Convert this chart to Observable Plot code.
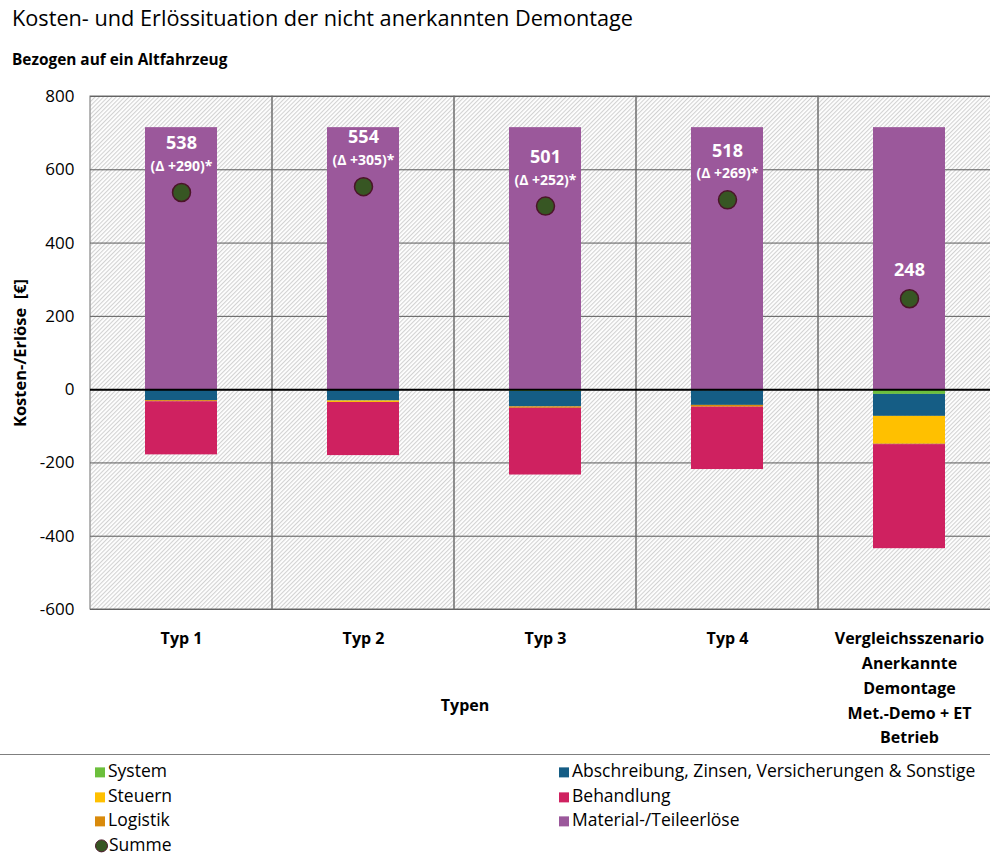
<!DOCTYPE html>
<html>
<head>
<meta charset="utf-8">
<script src="https://cdn.jsdelivr.net/npm/d3@7"></script>
<script src="https://cdn.jsdelivr.net/npm/@observablehq/plot@0.6"></script>
<style>
  body { margin: 0; background: #fff; font-family: "Open Sans", Lato, sans-serif; color: #000; }
  #wrap { position: relative; width: 990px; height: 855px; overflow: hidden; }
  #title { position: absolute; left: 12px; top: 3px; font-size: 21.7px; }
  #subtitle { position: absolute; left: 12px; top: 49px; font-size: 15.4px; font-weight: bold; }
  #chart { position: absolute; left: 0; top: 80px; }
  #ylabel { position: absolute; left: 19px; top: 353px; transform: translate(-50%, -50%) rotate(-90deg); font-size: 16.5px; font-weight: bold; white-space: pre; }
  #xlabel { position: absolute; left: 465px; top: 705px; transform: translate(-50%, -50%); font-size: 16px; font-weight: bold; }
  #sep { position: absolute; left: 0; top: 754px; width: 990px; height: 0; border-top: 1.5px solid #7f7f7f; }
  .leg { position: absolute; font-size: 17.5px; line-height: 1.1; white-space: nowrap; transform: translateY(-50%); }
  .sw { display: inline-block; width: 10px; height: 10px; margin-right: 3px; }
  .dotsw { display: inline-block; width: 11px; height: 11px; border-radius: 50%; background: #375623; border: 1.5px solid #4a1428; margin-right: 1px; vertical-align: -1px; }
</style>
</head>
<body>
<div id="wrap">
  <div id="title">Kosten- und Erlössituation der nicht anerkannten Demontage</div>
  <div id="subtitle">Bezogen auf ein Altfahrzeug</div>
  <div id="chart"></div>
  <div id="ylabel">Kosten-/Erlöse  [€]</div>
  <div id="xlabel">Typen</div>
  <div id="sep"></div>
  <div id="legend"></div>
</div>
<script>
const categories = ["Typ 1", "Typ 2", "Typ 3", "Typ 4", "Vergleichsszenario\nAnerkannte\nDemontage\nMet.-Demo + ET\nBetrieb"];
const seriesNames = ["Material-/Teileerlöse", "System", "Abschreibung, Zinsen, Versicherungen & Sonstige", "Steuern", "Logistik", "Behandlung"];
const seriesColors = ["#9b589b", "#6cbf3c", "#155d85", "#ffc000", "#d98a0b", "#cf2160"];

const material     = [715, 715, 715, 715, 715];
const system       = [0, 0, -5, -3, -13];
const abschreibung = [-30, -31, -42, -40, -60];
const steuern      = [0, -4, 0, 0, -75];
const logistik     = [-3, 0, -4, -5, -2];
const behandlung   = [-145, -145, -182, -170, -284];
const summe        = [538, 554, 501, 518, 248];
const sumLabels    = ["538", "554", "501", "518", "248"];
const deltaLabels  = ["(Δ +290)*", "(Δ +305)*", "(Δ +252)*", "(Δ +269)*", ""];
const yTicks       = [-600, -400, -200, 0, 200, 400, 600, 800];
const yDomain      = [-600, 800];

const seriesValues = [material, system, abschreibung, steuern, logistik, behandlung];
const rows = [];
seriesNames.forEach((s, i) => categories.forEach((c, j) => rows.push({cat: c, series: s, value: seriesValues[i][j]})));
const sums = categories.map((c, j) => ({cat: c, value: summe[j], label: sumLabels[j], delta: deltaLabels[j]}));

const chart = Plot.plot({
  width: 990,
  height: 675,
  marginTop: 16,
  marginBottom: 146,
  marginLeft: 90,
  marginRight: 0,
  style: {fontFamily: "'Open Sans', Lato, sans-serif", color: "#000", background: "transparent"},
  x: {domain: categories, range: [90, 1000], padding: 0},
  y: {domain: yDomain},
  color: {domain: seriesNames, range: seriesColors},
  marks: [
    Plot.frame({fill: "url(#hatch)", stroke: null}),
    Plot.gridY(yTicks, {stroke: "#595959", strokeOpacity: 1, strokeWidth: 1}),
    Plot.barY(categories, {x: d => d, y1: yDomain[0], y2: yDomain[1], fill: "none", stroke: "#6f6f6f", strokeWidth: 1}),
    Plot.barY(rows, {x: "cat", y: "value", fill: "series", order: seriesNames, insetLeft: 55, insetRight: 55}),
    Plot.ruleY([0], {stroke: "#000", strokeWidth: 2}),
    Plot.dot(sums, {x: "cat", y: "value", r: 9, fill: "#375623", stroke: "#4a1428", strokeWidth: 1.5}),
    Plot.text(sums.filter(d => d.delta), {x: "cat", y: "value", text: "label", dy: -49, fill: "#fff", fontSize: 18, fontWeight: "bold"}),
    Plot.text(sums.filter(d => d.delta), {x: "cat", y: "value", text: "delta", dy: -26, fill: "#fff", fontSize: 14, fontWeight: "bold"}),
    Plot.text(sums.filter(d => !d.delta), {x: "cat", y: "value", text: "label", dy: -29, fill: "#fff", fontSize: 18, fontWeight: "bold"}),
    Plot.axisY(yTicks, {tickSize: 0, tickPadding: 16, fontSize: 17, tickFormat: d => String(d), label: null}),
    Plot.axisX({tickSize: 0, tickPadding: 17, fontSize: 16, fontWeight: "bold", lineHeight: 1.55, label: null})
  ]
});

const defs = d3.select(chart).insert("defs", ":first-child");
const pat = defs.append("pattern").attr("id", "hatch").attr("patternUnits", "userSpaceOnUse")
  .attr("width", 3).attr("height", 3).attr("patternTransform", "rotate(45)");
pat.append("rect").attr("width", 3).attr("height", 3).attr("fill", "#ffffff");
pat.append("line").attr("x1", 0).attr("y1", 0).attr("x2", 0).attr("y2", 3).attr("stroke", "#d2d2d2").attr("stroke-width", 2.2);

document.getElementById("chart").appendChild(chart);

// legend
const legendItems = [
  {name: "System", col: 0, row: 0},
  {name: "Steuern", col: 0, row: 1},
  {name: "Logistik", col: 0, row: 2},
  {name: "Summe", col: 0, row: 3, dot: true},
  {name: "Abschreibung, Zinsen, Versicherungen & Sonstige", col: 1, row: 0},
  {name: "Behandlung", col: 1, row: 1},
  {name: "Material-/Teileerlöse", col: 1, row: 2}
];
const leg = document.getElementById("legend");
legendItems.forEach(it => {
  const d = document.createElement("div");
  d.className = "leg";
  d.style.left = (it.col ? 559 : 95) + "px";
  d.style.top = (771 + it.row * 24.5) + "px";
  const sw = document.createElement("span");
  if (it.dot) { sw.className = "dotsw"; }
  else { sw.className = "sw"; sw.style.background = seriesColors[seriesNames.indexOf(it.name)]; }
  d.appendChild(sw);
  d.appendChild(document.createTextNode(it.name));
  leg.appendChild(d);
});
</script>
</body>
</html>
